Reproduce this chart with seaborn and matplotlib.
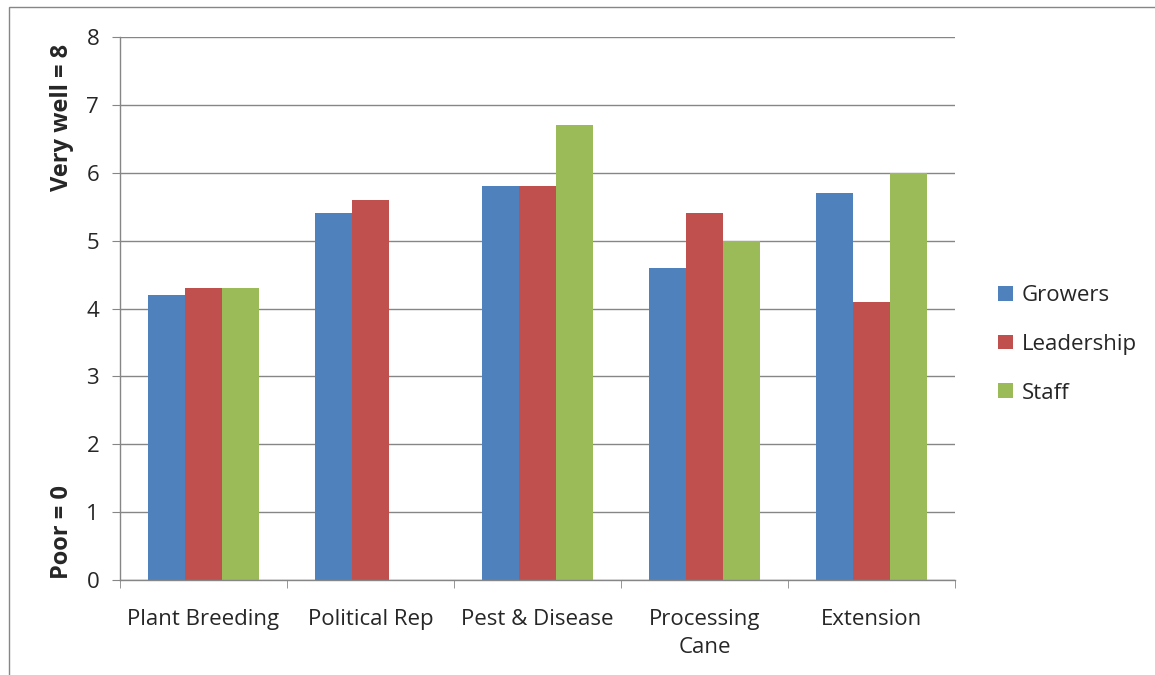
import seaborn as sns
import pandas as pd
import matplotlib.pyplot as plt
from matplotlib.patches import Rectangle, Patch
import numpy as np

categories = ["Plant Breeding", "Political Rep", "Pest & Disease", "Processing\nCane", "Extension"]
growers = [4.2, 5.4, 5.8, 4.6, 5.7]
leadership = [4.3, 5.6, 5.8, 5.4, 4.1]
staff = [4.3, np.nan, 6.7, 5.0, 6.0]
groups = ["Growers", "Leadership", "Staff"]
colors = ["#4F81BD", "#C0504D", "#9BBB59"]

rows = []
for name, vals in zip(groups, [growers, leadership, staff]):
    for cat, v in zip(categories, vals):
        rows.append({"category": cat, "group": name, "score": v})
df = pd.DataFrame(rows)

sns.set_style("white")
plt.rcParams['font.family'] = ['Open Sans', 'DejaVu Sans']

fig = plt.figure(figsize=(11.55, 6.75), dpi=100)
ax = fig.add_axes([0.1039, 0.1407, 0.7229, 0.8045])

sns.barplot(df, x="category", y="score", hue="group", order=categories,
            hue_order=groups, palette=colors, width=0.665, saturation=1,
            dodge=True, ax=ax, legend=False, linewidth=0, edgecolor="none")

ax.set_ylim(0, 8)
ax.set_xlim(-0.5, 4.5)
ax.set_yticks(range(0, 9))
ax.yaxis.grid(True, color="#868686", linewidth=1)
ax.set_axisbelow(True)
ax.set_xlabel("")
ax.set_ylabel("")

for s in ["top", "right"]:
    ax.spines[s].set_visible(False)
for s in ["left", "bottom"]:
    ax.spines[s].set_color("#868686")
    ax.spines[s].set_linewidth(1)

ax.tick_params(axis="y", which="major", length=6, color="#868686", labelsize=16, pad=9, direction="out", left=True)
ax.tick_params(axis="x", which="major", length=0, labelsize=16, pad=21)
ax.set_xticks(np.arange(-0.5, 5, 1), minor=True)
ax.tick_params(axis="x", which="minor", length=6, color="#868686", direction="out", bottom=True)
for lbl in ax.get_xticklabels():
    lbl.set_linespacing(1.45)

fig.text(0.054, 0.826, "Very well = 8", rotation=90, ha="center", va="center",
         fontsize=17, fontweight="bold")
fig.text(0.054, 0.212, "Poor = 0", rotation=90, ha="center", va="center",
         fontsize=17, fontweight="bold")

handles = [Patch(facecolor=c, edgecolor="none") for c in colors]
fig.legend(handles, groups, loc="center left", bbox_to_anchor=(0.847, 0.49),
           frameon=False, fontsize=16, handlelength=0.65, handleheight=0.65,
           handletextpad=0.4, labelspacing=1.25)

fig.patches.append(Rectangle((9 / 1155, -0.1), 1.2, (675 - 7) / 675 + 0.1,
                             transform=fig.transFigure, fill=False,
                             edgecolor="#868686", linewidth=1))

fig.savefig("out.png", dpi=100)
